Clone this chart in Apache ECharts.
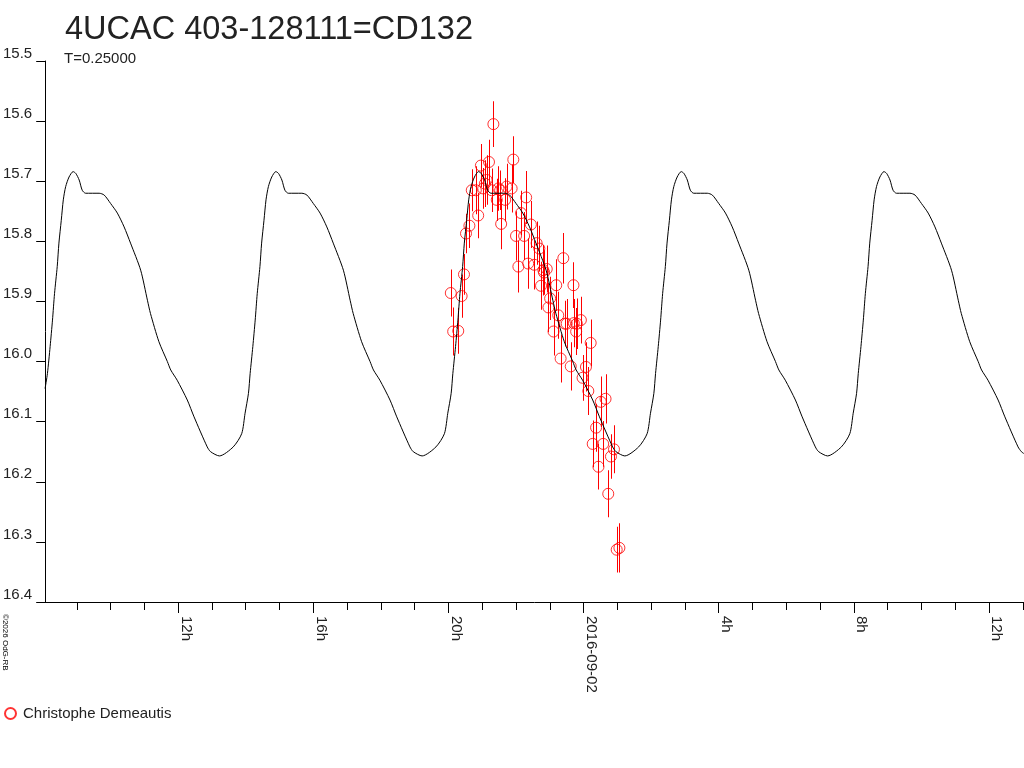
<!DOCTYPE html>
<html>
<head>
<meta charset="utf-8">
<script src="https://cdn.jsdelivr.net/npm/echarts@6/dist/echarts.min.js"></script>
<style>
html,body{margin:0;padding:0;background:#fff;}
#chart{width:1024px;height:768px;}
</style>
</head>
<body>
<div id="chart"></div>
<script>
// Observations: hours since 2016-09-01 00:00 (UT), magnitude, error
var obsHours = [20.07,20.14,20.29,20.39,20.46,20.52,20.62,20.69,20.81,20.88,20.96,21.03,21.08,21.13,21.20,21.28,21.33,21.43,21.48,21.53,21.56,21.68,21.72,21.87,21.92,22.00,22.07,22.15,22.24,22.30,22.36,22.44,22.54,22.61,22.69,22.74,22.81,22.83,22.91,22.96,23.01,23.11,23.19,23.25,23.32,23.40,23.45,23.50,23.62,23.70,23.71,23.78,23.80,23.92,23.97,24.07,24.14,24.21,24.27,24.37,24.44,24.51,24.58,24.65,24.73,24.81,24.90,24.98,25.06];
var obsMag = [15.886,15.950,15.949,15.891,15.855,15.787,15.774,15.715,15.715,15.757,15.674,15.712,15.704,15.698,15.668,15.715,15.605,15.731,15.712,15.715,15.771,15.731,15.709,15.712,15.664,15.791,15.842,15.753,15.791,15.727,15.837,15.772,15.839,15.803,15.812,15.874,15.848,15.852,15.846,15.910,15.895,15.950,15.873,15.923,15.995,15.828,15.937,15.937,16.008,15.873,15.936,15.950,15.937,15.931,16.027,16.009,16.049,15.969,16.137,16.110,16.175,16.067,16.137,16.062,16.220,16.158,16.146,16.313,16.310];
var obsErr = [0.039,0.040,0.038,0.036,0.034,0.033,0.037,0.035,0.040,0.038,0.036,0.034,0.039,0.041,0.037,0.036,0.038,0.035,0.037,0.033,0.042,0.036,0.038,0.040,0.039,0.041,0.043,0.037,0.040,0.044,0.042,0.039,0.041,0.036,0.038,0.040,0.042,0.037,0.039,0.041,0.036,0.040,0.043,0.039,0.040,0.042,0.038,0.041,0.040,0.038,0.040,0.039,0.042,0.039,0.038,0.041,0.040,0.039,0.039,0.040,0.038,0.042,0.038,0.041,0.039,0.037,0.040,0.038,0.041];

// Model light curve (black line), hours and magnitudes
var curveHours = [8.06,8.13,8.21,8.28,8.34,8.42,8.47,8.54,8.60,8.67,8.77,8.89,8.97,9.07,9.16,9.26,9.66,9.81,10.00,10.20,10.40,10.59,10.89,11.09,11.18,11.43,11.68,11.78,11.97,12.27,12.47,12.86,12.96,
13.22,13.63,13.88,13.98,14.08,14.13,14.21,14.28,14.34,14.42,14.47,14.54,14.60,14.67,14.77,14.89,14.97,15.07,15.16,15.26,15.66,15.81,16.00,16.20,16.40,16.59,16.89,17.09,17.18,17.43,17.68,17.78,17.97,18.27,18.47,18.86,18.96,
19.22,19.63,19.88,19.98,20.08,20.13,20.21,20.28,20.34,20.42,20.47,20.54,20.60,20.67,20.77,20.89,20.97,21.07,21.16,21.26,21.66,21.81,22.00,22.20,22.40,22.59,22.89,23.09,23.18,23.43,23.68,23.78,23.97,24.27,24.47,24.86,24.96,
25.22,25.63,25.88,25.98,26.08,26.13,26.21,26.28,26.34,26.42,26.47,26.54,26.60,26.67,26.77,26.89,26.97,27.07,27.16,27.26,27.66,27.81,28.00,28.20,28.40,28.59,28.89,29.09,29.18,29.43,29.68,29.78,29.97,30.27,30.47,30.86,30.96,
31.22,31.63,31.88,31.98,32.08,32.13,32.21,32.28,32.34,32.42,32.47,32.54,32.60,32.67,32.77,32.89,32.97,33.07,33.16,33.26,33.66,33.81,34.00,34.20,34.40,34.59,34.89,35.09,35.18,35.43,35.68,35.78,35.97,36.27,36.47,36.86,36.96,37.03];
var curveMag = [16.045,16.020,15.975,15.931,15.887,15.842,15.803,15.765,15.731,15.709,15.693,15.684,15.687,15.698,15.715,15.720,15.720,15.723,15.737,15.753,15.776,15.803,15.848,15.898,15.920,15.967,16.000,16.014,16.031,16.064,16.092,16.142,16.150,
16.157,16.142,16.120,16.086,16.053,16.020,15.975,15.931,15.887,15.842,15.803,15.765,15.731,15.709,15.693,15.684,15.687,15.698,15.715,15.720,15.720,15.723,15.737,15.753,15.776,15.803,15.848,15.898,15.920,15.967,16.000,16.014,16.031,16.064,16.092,16.142,16.150,
16.157,16.142,16.120,16.086,16.053,16.020,15.975,15.931,15.887,15.842,15.803,15.765,15.731,15.709,15.693,15.684,15.687,15.698,15.715,15.720,15.720,15.723,15.737,15.753,15.776,15.803,15.848,15.898,15.920,15.967,16.000,16.014,16.031,16.064,16.092,16.142,16.150,
16.157,16.142,16.120,16.086,16.053,16.020,15.975,15.931,15.887,15.842,15.803,15.765,15.731,15.709,15.693,15.684,15.687,15.698,15.715,15.720,15.720,15.723,15.737,15.753,15.776,15.803,15.848,15.898,15.920,15.967,16.000,16.014,16.031,16.064,16.092,16.142,16.150,
16.157,16.142,16.120,16.086,16.053,16.020,15.975,15.931,15.887,15.842,15.803,15.765,15.731,15.709,15.693,15.684,15.687,15.698,15.715,15.720,15.720,15.723,15.737,15.753,15.776,15.803,15.848,15.898,15.920,15.967,16.000,16.014,16.031,16.064,16.092,16.142,16.150,16.153];

// Axis ticks and labels
var minorTickHours = [9,10,11,12,13,14,15,16,17,18,19,20,21,22,23,24,25,26,27,28,29,30,31,32,33,34,35,36,37];
var majorTickHours = [12,16,20,24,28,32,36];
var majorTickLabels = ['12h','16h','20h','2016-09-02','4h','8h','12h'];

var titleText = '4UCAC 403-128111=CD132';
var subtitleText = 'T=0.25000';
var observerName = 'Christophe Demeautis';
var copyrightText = '\u00a92026 OdG-RB';

var FONT = '"Liberation Sans", Arial, sans-serif';
var TXT = '#222';
var RED = '#ff0000';

var obsData = obsHours.map(function (h, i) { return [h, obsMag[i]]; });
var errData = obsHours.map(function (h, i) { return [h, obsMag[i] - obsErr[i], obsMag[i] + obsErr[i]]; });
var curveData = curveHours.map(function (h, i) { return [h, curveMag[i]]; });

var chart = echarts.init(document.getElementById('chart'), null, {renderer: 'canvas'});
var option = {
  animation: false,
  backgroundColor: '#fff',
  color: [RED, '#000'],
  title: [
    {text: titleText, left: 65, top: 14, padding: 0,
     textStyle: {fontFamily: FONT, fontSize: 32.5, fontWeight: 'normal', color: TXT}},
    {text: subtitleText, left: 64, top: 51, padding: 0,
     textStyle: {fontFamily: FONT, fontSize: 15, fontWeight: 'normal', color: TXT}}
  ],
  legend: {
    data: [observerName], left: 4, top: 706, padding: 0,
    itemWidth: 11, itemHeight: 11,
    textStyle: {fontFamily: FONT, fontSize: 15, color: TXT, padding: [0, 0, 0, 2]}
  },
  graphic: [{
    type: 'text', x: 1, y: 614, rotation: -Math.PI / 2,
    style: {text: copyrightText, fontSize: 8, fontFamily: FONT, fill: '#000',
            align: 'left', verticalAlign: 'bottom'}
  }],
  grid: {left: 45, right: 0, top: 61, bottom: 166, containLabel: false},
  xAxis: [
    {
      type: 'value', min: 8.064, max: 37.036, position: 'bottom',
      axisLine: {show: true, lineStyle: {color: '#000', width: 1}},
      axisTick: {show: true, length: 8, customValues: minorTickHours, lineStyle: {color: '#000'}},
      axisLabel: {show: false},
      splitLine: {show: false}
    },
    {
      type: 'value', min: 8.064, max: 37.036, position: 'bottom',
      axisLine: {show: false},
      axisTick: {show: true, length: 11, customValues: majorTickHours, lineStyle: {color: '#000'}},
      axisLabel: {
        show: true, customValues: majorTickHours, rotate: -90, margin: 14,
        verticalAlign: 'bottom', fontFamily: FONT, fontSize: 15, color: TXT,
        formatter: function (v) {
          var i = majorTickHours.indexOf(Math.round(v));
          return i >= 0 ? majorTickLabels[i] : '';
        }
      },
      splitLine: {show: false}
    }
  ],
  yAxis: {
    type: 'value', inverse: true, min: 15.5, max: 16.4, interval: 0.1,
    axisLine: {show: true, lineStyle: {color: '#000', width: 1}},
    axisTick: {show: true, length: 9, lineStyle: {color: '#000'}},
    axisLabel: {
      show: true, margin: 13, verticalAlign: 'bottom', fontFamily: FONT, fontSize: 15, color: TXT,
      formatter: function (v) { return v.toFixed(1); }
    },
    splitLine: {show: false}
  },
  series: [
    {
      type: 'custom', name: 'errors', xAxisIndex: 0, silent: true, z: 2,
      itemStyle: {color: RED},
      data: errData,
      renderItem: function (params, api) {
        var p1 = api.coord([api.value(0), api.value(1)]);
        var p2 = api.coord([api.value(0), api.value(2)]);
        var x = Math.round(p1[0]);
        return {type: 'rect', shape: {x: x, y: Math.min(p1[1], p2[1]), width: 1, height: Math.abs(p2[1] - p1[1])},
                style: {fill: RED, stroke: null}};
      }
    },
    {
      type: 'scatter', name: observerName, xAxisIndex: 0, z: 3,
      symbol: 'circle', symbolSize: 11,
      itemStyle: {color: 'rgba(255,255,255,0)', borderColor: RED, borderWidth: 1},
      data: obsData
    },
    {
      type: 'line', name: 'model', xAxisIndex: 0, z: 4, silent: true,
      showSymbol: false, smooth: 0.25,
      itemStyle: {color: '#000'},
      lineStyle: {color: '#000', width: 1},
      data: curveData
    }
  ]
};
chart.setOption(option);
</script>
</body>
</html>
